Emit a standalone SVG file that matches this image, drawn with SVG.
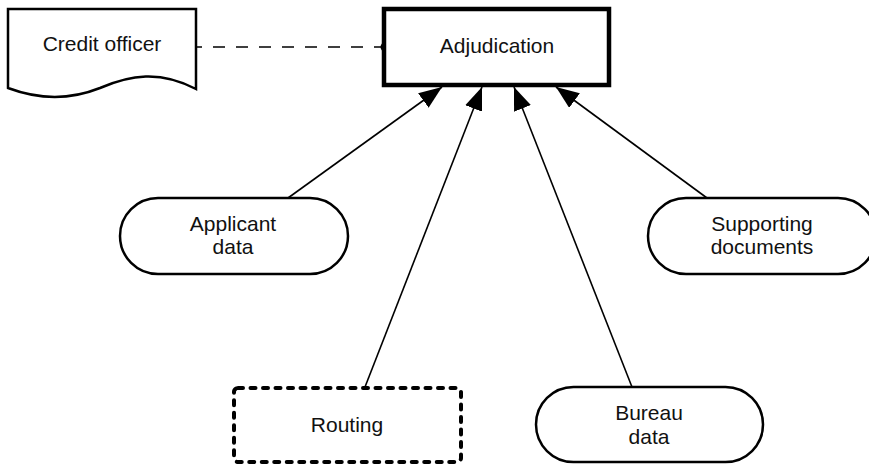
<svg xmlns="http://www.w3.org/2000/svg" width="869" height="466" viewBox="0 0 869 466">
<style>
.n{fill:#fff;stroke:#000;stroke-width:2.5}
.t{font-family:"Liberation Sans",Arial,sans-serif;font-size:21px;fill:#111;text-anchor:middle}
.c{stroke:#000;stroke-width:1.6;fill:none}
</style>
<defs>
<marker id="ah" viewBox="0 0 23 18" refX="23" refY="9" markerWidth="23" markerHeight="18" markerUnits="userSpaceOnUse" orient="auto">
<path d="M0,0 L23,9 L0,18 Z" fill="#000"/>
</marker>
</defs>
<rect width="869" height="466" fill="#fff"/>
<g id="connectors">
<line class="c" x1="197" y1="47" x2="384" y2="47" stroke-dasharray="12,11" stroke-dashoffset="7"/>
<circle cx="385" cy="47" r="4.5" fill="#000"/>
<line class="c" x1="288" y1="198" x2="442" y2="87" marker-end="url(#ah)"/>
<line class="c" x1="365" y1="387" x2="482" y2="87" marker-end="url(#ah)"/>
<line class="c" x1="632" y1="387" x2="514" y2="87" marker-end="url(#ah)"/>
<line class="c" x1="707" y1="198" x2="556" y2="87" marker-end="url(#ah)"/>
</g>
<g id="credit-officer">
<path class="n" d="M8,9 H196 V89 C160,70 130,75 100,88 C70,100 40,100 8,88 Z"/>
<text class="t" x="102" y="51">Credit officer</text>
</g>
<g id="adjudication">
<rect x="384" y="9" width="225" height="76" fill="#fff" stroke="#000" stroke-width="4.5"/>
<text class="t" x="497" y="53">Adjudication</text>
</g>
<g id="applicant-data">
<rect class="n" x="120" y="198" width="228" height="76" rx="38"/>
<text class="t" x="233" y="231">Applicant</text>
<text class="t" x="233" y="254">data</text>
</g>
<g id="supporting-documents">
<rect class="n" x="648" y="198" width="228" height="76" rx="38"/>
<text class="t" x="762" y="231">Supporting</text>
<text class="t" x="762" y="254">documents</text>
</g>
<g id="routing">
<rect x="234" y="388" width="227" height="74" rx="4" fill="#fff" stroke="#000" stroke-width="4" stroke-dasharray="5,7.5" stroke-linecap="round"/>
<text class="t" x="347" y="432">Routing</text>
</g>
<g id="bureau-data">
<rect class="n" x="536" y="387" width="227" height="75" rx="37.5"/>
<text class="t" x="649" y="420">Bureau</text>
<text class="t" x="649" y="444">data</text>
</g>
</svg>
